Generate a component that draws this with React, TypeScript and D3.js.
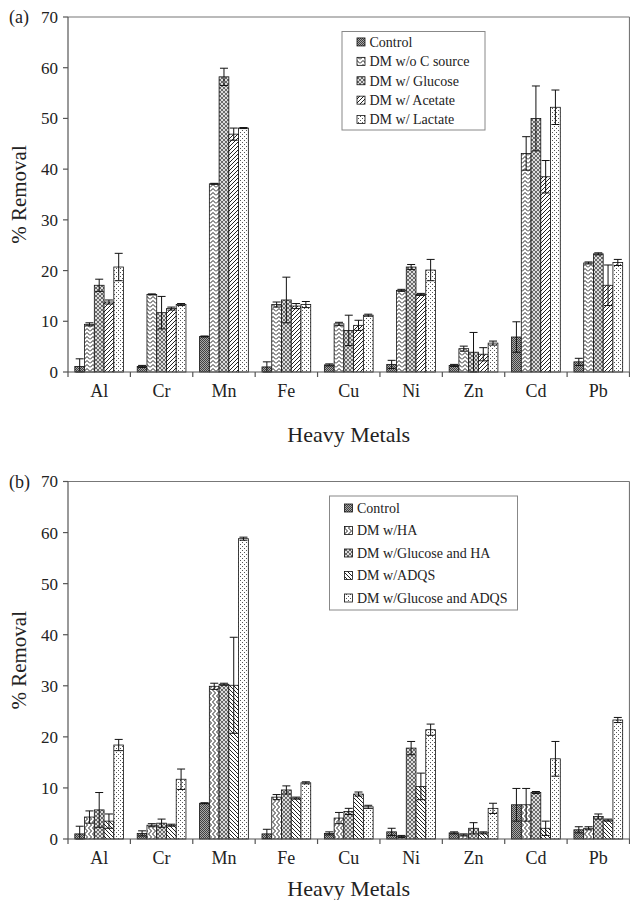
import React from "react";
import * as d3 from "d3";

const metals = ["Al", "Cr", "Mn", "Fe", "Cu", "Ni", "Zn", "Cd", "Pb"];
const yTicks = [0, 10, 20, 30, 40, 50, 60, 70];

const seriesA = ["Control", "DM w/o C source", "DM w/ Glucose", "DM w/ Acetate", "DM w/ Lactate"];
const controlA = [1.1, 1.1, 7.0, 1.0, 1.4, 1.5, 1.3, 6.9, 2.0];
const controlAErr = [1.5, 0.2, 0.1, 1.0, 0.2, 0.8, 0.2, 3.0, 0.7];
const noCarbonA = [9.4, 15.3, 37.1, 13.3, 9.5, 16.1, 4.6, 43.1, 21.5];
const noCarbonAErr = [0.3, 0.1, 0.1, 0.5, 0.3, 0.2, 0.5, 3.3, 0.2];
const glucoseA = [17.1, 11.7, 58.2, 14.2, 8.2, 20.7, 3.9, 50.0, 23.3];
const glucoseAErr = [1.2, 3.2, 1.7, 4.5, 3.0, 0.5, 3.9, 6.4, 0.2];
const acetateA = [13.8, 12.5, 46.9, 13.0, 9.2, 15.3, 3.5, 38.5, 17.1];
const acetateAErr = [0.4, 0.3, 1.2, 0.5, 1.0, 0.2, 1.3, 3.2, 4.0];
const lactateA = [20.7, 13.3, 48.1, 13.3, 11.2, 20.1, 5.7, 52.2, 21.6];
const lactateAErr = [2.7, 0.2, 0.1, 0.6, 0.2, 2.1, 0.4, 3.4, 0.6];

const seriesB = ["Control", "DM w/HA", "DM w/Glucose and HA", "DM w/ADQS", "DM w/Glucose and ADQS"];
const controlB = [1.0, 1.1, 7.0, 1.0, 1.1, 1.4, 1.2, 6.7, 1.8];
const controlBErr = [1.5, 0.5, 0.1, 0.9, 0.3, 0.7, 0.2, 3.2, 0.6];
const humicB = [4.3, 2.7, 29.9, 8.2, 4.1, 0.5, 0.8, 6.7, 2.1];
const humicBErr = [1.2, 0.3, 0.6, 0.5, 1.1, 0.2, 0.2, 3.2, 0.3];
const glucoseHumicB = [5.7, 3.1, 30.3, 9.6, 5.4, 17.8, 2.1, 9.1, 4.4];
const glucoseHumicBErr = [3.4, 0.8, 0.2, 0.8, 0.6, 1.3, 1.1, 0.2, 0.5];
const adqsB = [3.5, 2.7, 30.1, 8.0, 8.8, 10.3, 1.2, 2.1, 3.7];
const adqsBErr = [1.4, 0.2, 9.4, 0.2, 0.4, 2.6, 0.2, 1.4, 0.2];
const glucoseAdqsB = [18.4, 11.7, 58.8, 11.0, 6.3, 21.4, 6.0, 15.7, 23.3];
const glucoseAdqsBErr = [1.1, 2.0, 0.3, 0.2, 0.3, 1.1, 1.0, 3.4, 0.5];

const valuesA = [controlA, noCarbonA, glucoseA, acetateA, lactateA];
const errorsA = [controlAErr, noCarbonAErr, glucoseAErr, acetateAErr, lactateAErr];
const valuesB = [controlB, humicB, glucoseHumicB, adqsB, glucoseAdqsB];
const errorsB = [controlBErr, humicBErr, glucoseHumicBErr, adqsBErr, glucoseAdqsBErr];

const patternsA = ["pCtrl", "pZig", "pCross", "pFwd", "pDots"];
const patternsB = ["pCtrl", "pZigV", "pCross", "pBack", "pDots"];

const FONT = "Liberation Serif, Tinos, DejaVu Serif, serif";
const txt = { fontFamily: FONT } as React.CSSProperties;

function Defs() {
  return (
    <defs>
      <pattern id="pCtrl" width="2" height="2" patternUnits="userSpaceOnUse">
        <rect width="2" height="2" fill="#a8a8a8" />
        <rect x="0" y="0" width="1" height="1" fill="#404040" />
        <rect x="1" y="1" width="1" height="1" fill="#404040" />
      </pattern>
      <pattern id="pZig" width="6" height="4" patternUnits="userSpaceOnUse">
        <rect width="6" height="4" fill="#fff" />
        <path d="M0,3.5 L3,0.5 L6,3.5" fill="none" stroke="#222" strokeWidth="1" />
      </pattern>
      <pattern id="pZigV" width="4" height="6" patternUnits="userSpaceOnUse">
        <rect width="4" height="6" fill="#fff" />
        <path d="M0.5,0 L3.5,3 L0.5,6" fill="none" stroke="#222" strokeWidth="1" />
      </pattern>
      <pattern id="pCross" width="4" height="4" patternUnits="userSpaceOnUse">
        <rect width="4" height="4" fill="#dcdcdc" />
        <path d="M0,0 L4,4 M4,0 L0,4" stroke="#3a3a3a" strokeWidth="0.7" />
      </pattern>
      <pattern id="pFwd" width="4" height="4" patternUnits="userSpaceOnUse">
        <rect width="4" height="4" fill="#fff" />
        <path d="M-1,1 L1,-1 M0,4 L4,0 M3,5 L5,3" stroke="#222" strokeWidth="1" />
      </pattern>
      <pattern id="pBack" width="4" height="4" patternUnits="userSpaceOnUse">
        <rect width="4" height="4" fill="#fff" />
        <path d="M-1,3 L1,5 M0,0 L4,4 M3,-1 L5,1" stroke="#222" strokeWidth="1" />
      </pattern>
      <pattern id="pDots" width="4" height="4" patternUnits="userSpaceOnUse">
        <rect width="4" height="4" fill="#fff" />
        <rect x="0" y="0" width="1" height="1" fill="#555" />
        <rect x="2" y="2" width="1" height="1" fill="#555" />
      </pattern>
    </defs>
  );
}

type PanelProps = {
  top: number;
  bottom: number;
  label: string;
  series: string[];
  values: number[][];
  errors: number[][];
  patterns: string[];
  titleOffset: number;
  legend: { x: number; y: number; w: number; h: number; step: number };
};

function Panel({ top, bottom, label, series, values, errors, patterns, titleOffset, legend }: PanelProps) {
  const left = 68;
  const right = 629.5;
  const x0 = d3.scaleBand<string>().domain(metals).range([left, right]).padding(0);
  const x1 = d3
    .scaleBand<string>()
    .domain(series)
    .range([0, x0.bandwidth()])
    .paddingInner(0)
    .paddingOuter(0.7);
  const y = d3.scaleLinear().domain([0, 70]).range([bottom, top]);
  const bw = x1.bandwidth();
  const cap = 4;

  return (
    <g>
      <line x1={left} x2={right} y1={top} y2={top} stroke="#777" strokeWidth={1.2} />
      <line x1={right} x2={right} y1={top} y2={bottom} stroke="#777" strokeWidth={1.2} />
      {series.map((s, si) =>
        metals.map((m, mi) => {
          const v = values[si][mi];
          const bx = (x0(m) as number) + (x1(s) as number);
          return (
            <rect
              key={s + m}
              x={bx}
              y={y(v)}
              width={bw}
              height={y(0) - y(v)}
              fill={`url(#${patterns[si]})`}
              stroke="#111"
              strokeWidth={0.8}
            />
          );
        })
      )}
      {series.map((s, si) =>
        metals.map((m, mi) => {
          const v = values[si][mi];
          const e = errors[si][mi];
          const cx = (x0(m) as number) + (x1(s) as number) + bw / 2;
          const yHi = y(v + e);
          const yLo = y(Math.max(0, v - e));
          return (
            <g key={"e" + s + m} stroke="#111" strokeWidth={1}>
              <line x1={cx} x2={cx} y1={yHi} y2={yLo} />
              <line x1={cx - cap} x2={cx + cap} y1={yHi} y2={yHi} />
              <line x1={cx - cap} x2={cx + cap} y1={yLo} y2={yLo} />
            </g>
          );
        })
      )}
      <line x1={left} x2={left} y1={top} y2={bottom} stroke="#555" strokeWidth={1.2} />
      {yTicks.map((t) => (
        <g key={"yt" + t}>
          <line x1={left - 5} x2={left} y1={y(t)} y2={y(t)} stroke="#555" strokeWidth={1.2} />
          <text x={left - 10} y={y(t)} dy="0.35em" textAnchor="end" style={txt} fontSize={17} fill="#222">
            {t}
          </text>
        </g>
      ))}
      <line x1={left} x2={right} y1={bottom} y2={bottom} stroke="#555" strokeWidth={1.2} />
      {metals.map((m) => (
        <line
          key={"xt" + m}
          x1={(x0(m) as number) + x0.bandwidth()}
          x2={(x0(m) as number) + x0.bandwidth()}
          y1={bottom}
          y2={bottom + 5}
          stroke="#555"
          strokeWidth={1.2}
        />
      ))}
      <line x1={left} x2={left} y1={bottom} y2={bottom + 5} stroke="#555" strokeWidth={1.2} />
      {metals.map((m) => (
        <text
          key={"xl" + m}
          x={(x0(m) as number) + x0.bandwidth() / 2}
          y={bottom + 25}
          textAnchor="middle"
          style={txt}
          fontSize={18}
          fill="#222"
        >
          {m}
        </text>
      ))}
      <text x={(left + right) / 2} y={bottom + titleOffset} textAnchor="middle" style={txt} fontSize={22} fill="#222">
        Heavy Metals
      </text>
      <text
        transform={`translate(26,${(top + bottom) / 2}) rotate(-90)`}
        textAnchor="middle"
        style={txt}
        fontSize={21}
        fill="#222"
      >
        % Removal
      </text>
      <text x={9} y={top} dy="0.35em" style={txt} fontSize={18} fill="#222">
        {label}
      </text>
      <rect x={legend.x} y={legend.y} width={legend.w} height={legend.h} fill="#fff" stroke="#888" strokeWidth={1} />
      {series.map((s, si) => {
        const cy = legend.y + legend.step / 2 + (legend.h - legend.step * 5) / 2 + si * legend.step;
        return (
          <g key={"lg" + s}>
            <rect
              x={legend.x + 15}
              y={cy - 4}
              width={8}
              height={8}
              fill={`url(#${patterns[si]})`}
              stroke="#111"
              strokeWidth={0.8}
            />
            <text x={legend.x + 27.5} y={cy} dy="0.35em" style={txt} fontSize={14} fill="#222">
              {s}
            </text>
          </g>
        );
      })}
    </g>
  );
}

export default function App() {
  return (
    <svg width={630} height={900} style={{ position: "absolute", left: 0, top: 0, background: "#fff" }}>
      <Defs />
      <rect width={630} height={900} fill="#fff" />
      <Panel
        top={17}
        bottom={372}
        label="(a)"
        series={seriesA}
        values={valuesA}
        errors={errorsA}
        patterns={patternsA}
        titleOffset={70}
        legend={{ x: 342, y: 31.5, w: 143, h: 98.5, step: 19.4 }}
      />
      <Panel
        top={481.5}
        bottom={839}
        label="(b)"
        series={seriesB}
        values={valuesB}
        errors={errorsB}
        patterns={patternsB}
        titleOffset={57}
        legend={{ x: 329.5, y: 496, w: 188, h: 114, step: 22.5 }}
      />
    </svg>
  );
}
